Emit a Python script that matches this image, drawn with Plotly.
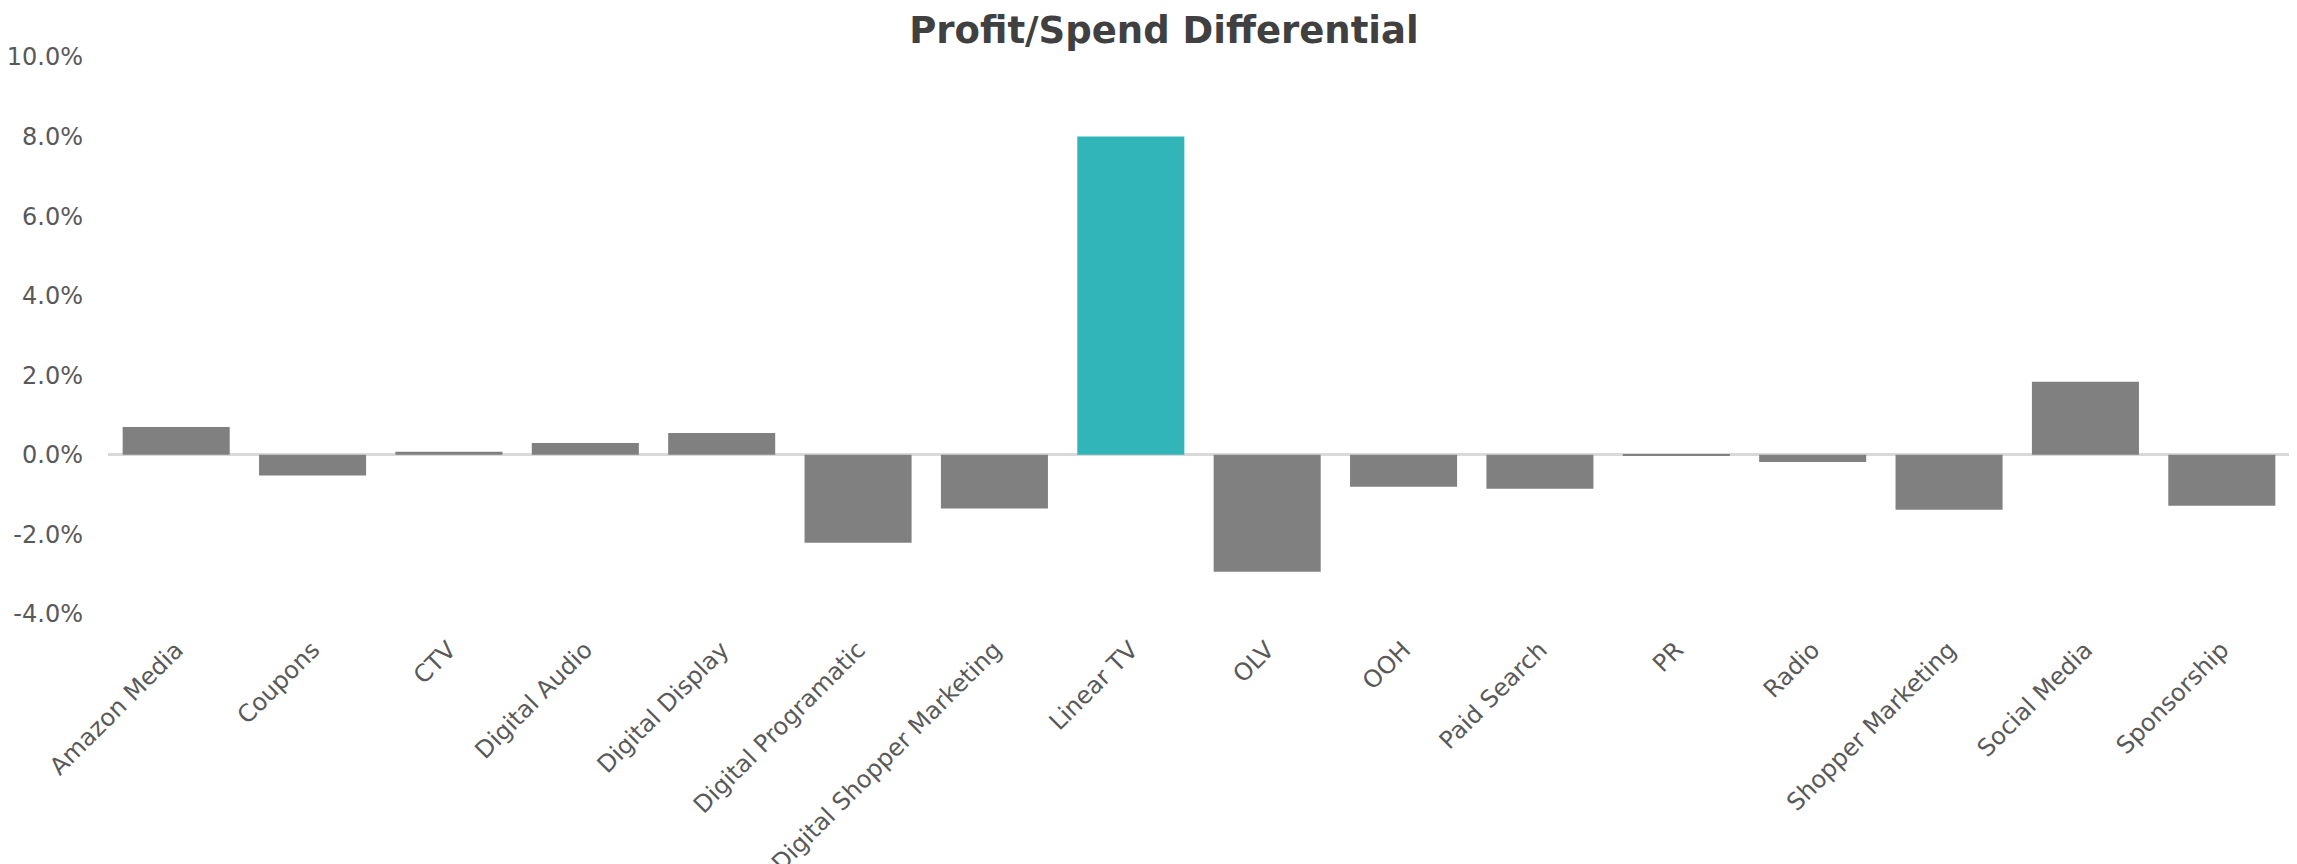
import plotly.graph_objects as go

channels = [
    "Amazon Media", "Coupons", "CTV", "Digital Audio", "Digital Display",
    "Digital Programatic", "Digital Shopper Marketing", "Linear TV", "OLV",
    "OOH", "Paid Search", "PR", "Radio", "Shopper Marketing", "Social Media",
    "Sponsorship",
]
differential = [
    0.0070, -0.0052, 0.0008, 0.0030, 0.0055,
    -0.0221, -0.0135, 0.0800, -0.0294,
    -0.0080, -0.0085, -0.0003, -0.0018, -0.0138, 0.0184,
    -0.0128,
]
highlight = "Linear TV"

y_ticks = [-0.04, -0.02, 0.0, 0.02, 0.04, 0.06, 0.08, 0.10]
# plain hyphen for negatives, like the original
y_ticktext = [f"{v * 100:.1f}%" for v in y_ticks]

colors = ["#31B5B9" if c == highlight else "#808080" for c in channels]

fig = go.Figure()
fig.add_trace(go.Bar(
    x=channels,
    y=differential,
    marker=dict(color=colors, line=dict(width=0)),
    showlegend=False,
))

# page body has an 8px margin, so the figure is a bit smaller than the window
fig.update_layout(
    width=2289,
    height=856,
    title=dict(
        text="<b>Profit/Spend Differential</b>",
        font=dict(family="DejaVu Sans", size=37, color="#404040"),
        x=0.505, xanchor="center",
        y=0.974, yanchor="middle",
    ),
    paper_bgcolor="white",
    plot_bgcolor="white",
    bargap=0.215,
    margin=dict(l=100, r=7, t=49, b=250),
    font=dict(family="DejaVu Sans", color="#595959"),
)
fig.update_xaxes(
    tickangle=-45,
    tickfont=dict(size=24, color="#595959"),
    ticklabelstandoff=16,
    automargin=False,
    showgrid=False,
    showline=False,
    ticks="",
)
fig.update_yaxes(
    range=[-0.04, 0.10],
    tickvals=y_ticks,
    ticktext=y_ticktext,
    tickfont=dict(size=24, color="#595959"),
    ticklabelstandoff=24,
    automargin=False,
    showgrid=False,
    zeroline=True,
    zerolinecolor="#D9D9D9",
    zerolinewidth=3,
    showline=False,
    ticks="",
)

fig.write_html("out.html")
